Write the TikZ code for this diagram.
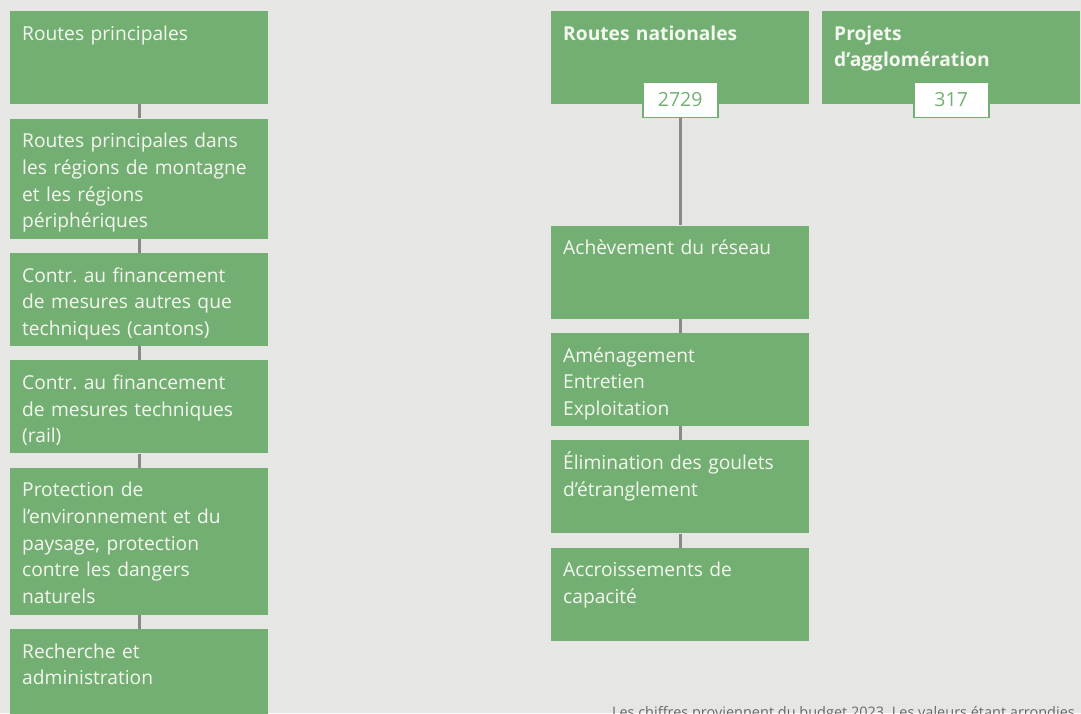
\documentclass[tikz,border=0pt]{standalone}
\usepackage{fontspec}
\setmainfont{Open Sans}
\usetikzlibrary{positioning}
\definecolor{bggray}{RGB}{230,230,228}
\definecolor{boxgreen}{RGB}{115,175,114}
\definecolor{linkgray}{RGB}{138,138,132}
\definecolor{notegray}{RGB}{105,105,105}
\definecolor{textwhite}{RGB}{244,247,240}
\frenchspacing

\begin{document}
\begin{tikzpicture}[x=1pt, y=1pt,
    box/.style={rectangle, fill=boxgreen, text=textwhite, minimum width=258pt, text width=234pt, inner xsep=12pt, inner ysep=6pt, align=left, text height=23pt, text depth=58pt, font=\fontsize{19.2}{26.7}\selectfont},
    num/.style={rectangle, draw=boxgreen, line width=1.6pt, fill=white, text=boxgreen, minimum width=75pt, minimum height=35pt, inner sep=0pt, font=\fontsize{19.5}{23}\selectfont},
    link/.style={draw=linkgray, line width=2.6pt},
    note/.style={text=notegray, inner sep=0pt, font=\fontsize{14.5}{17}\selectfont},
    node distance=14pt]
            \useasboundingbox (0,0) rectangle (1081,-713);
            \clip (0,0) rectangle (1081,-713);
            \fill[bggray] (0,0) rectangle (1081,-713);
            % Nodes
            \node[box, anchor=north west] (rp) at (10,-11) {Routes principales};
            \node[box, text depth=85pt, below=of rp] (rpm) {Routes principales dans\\les régions de montagne\\et les régions\\périphériques};
            \node[box, below=of rpm] (cfa) {Contr. au financement\\de mesures autres que\\techniques (cantons)};
            \node[box, below=of cfa] (cft) {Contr. au financement\\de mesures techniques\\(rail)};
            \node[box, text depth=112pt, below=of cft] (env) {Protection de\\l’environnement et du\\paysage, protection\\contre les dangers\\naturels};
            \node[box, below=of env] (rech) {Recherche et\\administration};

            \node[box, anchor=north west] (nat) at (551,-11) {\bfseries Routes nationales};
            \node[num] (n1) at ([yshift=4.5pt]nat.south) {2729};
            \node[box, below=121pt of nat] (ach) {Achèvement du réseau};
            \node[box, below=of ach] (ame) {Aménagement\\Entretien\\Exploitation};
            \node[box, below=of ame] (eli) {Élimination des goulets\\d’étranglement};
            \node[box, below=of eli] (acc) {Accroissements de\\capacité};

            \node[box, anchor=north west] (agg) at (822,-11) {\bfseries Projets\\d’agglomération};
            \node[num] (n2) at ([yshift=4.5pt]agg.south) {317};

            \node[note, anchor=base east] (src) at (1075,-717) {Les chiffres proviennent du budget 2023. Les valeurs étant arrondies};
            % Liens
            \draw[link] (rp) -- (rpm);
            \draw[link] (rpm) -- (cfa);
            \draw[link] (cfa) -- (cft);
            \draw[link] (cft) -- (env);
            \draw[link] (env) -- (rech);
            \draw[link] (n1) -- (ach);
            \draw[link] (ach) -- (ame);
            \draw[link] (ame) -- (eli);
            \draw[link] (eli) -- (acc);
        \end{tikzpicture}
\end{document}
